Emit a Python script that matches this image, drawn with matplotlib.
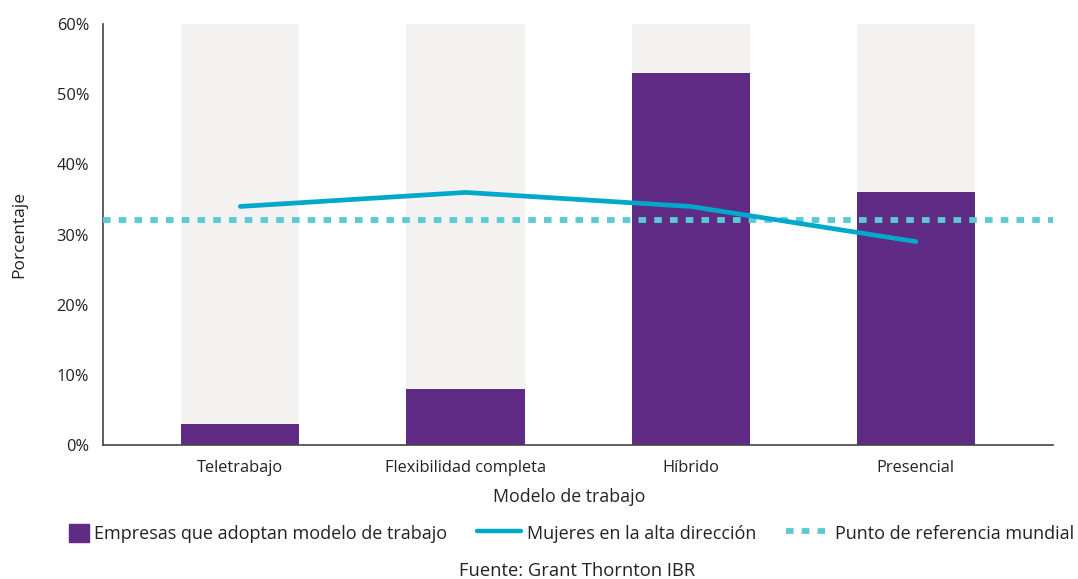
import matplotlib.pyplot as plt
from matplotlib.patches import Patch, Rectangle
from matplotlib.lines import Line2D
from matplotlib.legend_handler import HandlerPatch
from matplotlib.ticker import PercentFormatter

plt.rcParams['font.family'] = ['Open Sans', 'DejaVu Sans']

# data (percent)
categorias = ["Teletrabajo", "Flexibilidad completa", "Híbrido", "Presencial"]
empresas = [3, 8, 53, 36]
mujeres = [34, 36, 34, 29]
referencia_mundial = 32
y_max = 60

purple = "#5f2b85"
cyan = "#00a9c9"
cyan_light = "#5cc9d6"
grey_bg = "#f3f2f1"
text_col = "#222222"


def small_square(legend, orig_handle, xdescent, ydescent, width, height, fontsize):
    # narrow swatch, aligned to the right of the handle box
    pw, ph = 14.4, 13.0
    return Rectangle((-xdescent + width - pw, -ydescent + (height - ph) / 2), pw, ph)


fig = plt.figure(figsize=(10.78, 5.79), dpi=100)
ax = fig.add_axes([0.0955, 0.2314, 0.8815, 0.7271])

x = list(range(len(categorias)))
w = 0.525
ax.bar(x, [y_max] * len(x), width=w, color=grey_bg, zorder=1)
ax.bar(x, empresas, width=w, color=purple, zorder=2)
ax.plot(x, mujeres, color=cyan, lw=3.4, solid_capstyle='round', zorder=4)
ax.axhline(referencia_mundial, color=cyan_light, lw=4.2,
           linestyle=(0, (1.3, 1.4)), zorder=3)

ax.set_xlim(-0.61, 3.61)
ax.set_ylim(0, y_max)
ax.set_yticks(range(0, 61, 10))
ax.yaxis.set_major_formatter(PercentFormatter(decimals=0))
ax.set_xticks(x)
ax.set_xticklabels(categorias)
ax.tick_params(length=0, labelsize=11.8, colors=text_col, pad=10)
ax.tick_params(axis='x', pad=11)

for s in ("top", "right"):
    ax.spines[s].set_visible(False)
for s in ("left", "bottom"):
    ax.spines[s].set_color("#444444")
    ax.spines[s].set_linewidth(1.2)

ax.set_xlabel("Modelo de trabajo", fontsize=12.8, color=text_col)
ax.xaxis.set_label_coords(0.4905, -0.102)
ax.set_ylabel("Porcentaje", fontsize=12.5, color=text_col, labelpad=21)

handles = [
    Patch(color=purple, label="Empresas que adoptan modelo de trabajo"),
    Line2D([], [], color=cyan, lw=3.2, solid_capstyle='round',
           label="Mujeres en la alta dirección"),
    Line2D([], [], color=cyan_light, lw=4.2, linestyle=(0, (1.3, 1.4)),
           label="Punto de referencia mundial"),
]
fig.legend(handles=handles, loc="center", bbox_to_anchor=(0.519, 0.079),
           ncol=3, frameon=False, fontsize=13, handlelength=2.44,
           handleheight=1.3, columnspacing=1.66, handletextpad=0.3,
           labelcolor=text_col,
           handler_map={Patch: HandlerPatch(patch_func=small_square)})

fig.text(0.535, 0.014, "Fuente: Grant Thornton IBR", ha="center", va="center",
         fontsize=13.2, color=text_col)

fig.savefig("out.png", dpi=100)
